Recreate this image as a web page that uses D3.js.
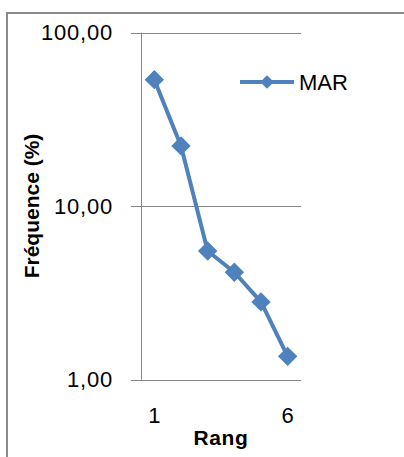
<!DOCTYPE html>
<html><head><meta charset="utf-8">
<script src="https://cdn.jsdelivr.net/npm/d3@7"></script>
<style>
html,body{margin:0;padding:0;background:#fff;}
svg{display:block;}
text{font-family:"Liberation Sans",Arial,sans-serif;fill:#000;}
</style></head><body>
<svg id="c" width="404" height="457"></svg>
<script>
const categories = ["1","2","3","4","5","6"];
const values = [53.5, 22.2, 5.5, 4.15, 2.8, 1.36];
const yTicks = [1, 10, 100];
const xTickLabels = ["1","6"];
const seriesName = "MAR";
const yTitle = "Fréquence (%)";
const xTitle = "Rang";

const svg = d3.select("#c");
const blue = "#4F81BD", grid = "#868686";

// outer chart border
svg.append("rect").attr("x",7).attr("y",13).attr("width",420).attr("height",470)
  .attr("fill","none").attr("stroke","#8a8a8a").attr("stroke-width",2);

const L = 141, R = 301, T = 32.5, B = 379.5;
const x = d3.scaleBand().domain(categories).range([L, R]);
const y = d3.scaleLog().domain([1, 100]).range([B, T]);

// gridlines
svg.append("g").selectAll("line").data(yTicks).join("line")
  .attr("x1", L-10).attr("x2", R).attr("y1", d=>Math.round(y(d))+0.5).attr("y2", d=>Math.round(y(d))+0.5)
  .attr("stroke", grid).attr("stroke-width",1);
// y axis line
svg.append("line").attr("x1",L+0.5).attr("x2",L+0.5).attr("y1",T).attr("y2",B)
  .attr("stroke",grid).attr("stroke-width",1);

const fmt = v => v.toFixed(2).replace(".", ",");
svg.append("g").selectAll("text").data(yTicks).join("text")
  .attr("x",113).attr("y",d=>y(d)).attr("dy","0.35em").attr("text-anchor","end")
  .attr("font-size",22).attr("letter-spacing","0.8px").text(d=>fmt(d));

svg.append("g").selectAll("text").data(xTickLabels).join("text")
  .attr("x",d=>x(d)+x.bandwidth()/2).attr("y",423).attr("text-anchor","middle")
  .attr("font-size",22).text(d=>d);

svg.append("text").attr("x",221).attr("y",445).attr("text-anchor","middle")
  .attr("font-size",21).attr("font-weight","bold").attr("letter-spacing","0.6px").text(xTitle);
svg.append("text").attr("transform","translate(39,206) rotate(-90)").attr("text-anchor","middle")
  .attr("font-size",21).attr("font-weight","bold").text(yTitle);

const pts = categories.map((c,i)=>[x(c)+x.bandwidth()/2, y(values[i])]);
svg.append("path").attr("d", d3.line()(pts)).attr("fill","none")
  .attr("stroke",blue).attr("stroke-width",4).attr("stroke-linejoin","round");
const diamond = d3.symbol().type(d3.symbolDiamond2).size(240);
svg.append("g").selectAll("path").data(pts).join("path")
  .attr("transform",d=>`translate(${d[0]},${d[1]})`).attr("d",diamond).attr("fill",blue);

// legend
svg.append("line").attr("x1",240).attr("x2",294).attr("y1",82).attr("y2",82)
  .attr("stroke",blue).attr("stroke-width",4);
svg.append("path").attr("transform","translate(267,82)").attr("d",d3.symbol().type(d3.symbolDiamond2).size(120)).attr("fill",blue);
svg.append("text").attr("x",299).attr("y",82).attr("dy","0.35em").attr("font-size",22).text(seriesName);
</script></body></html>
